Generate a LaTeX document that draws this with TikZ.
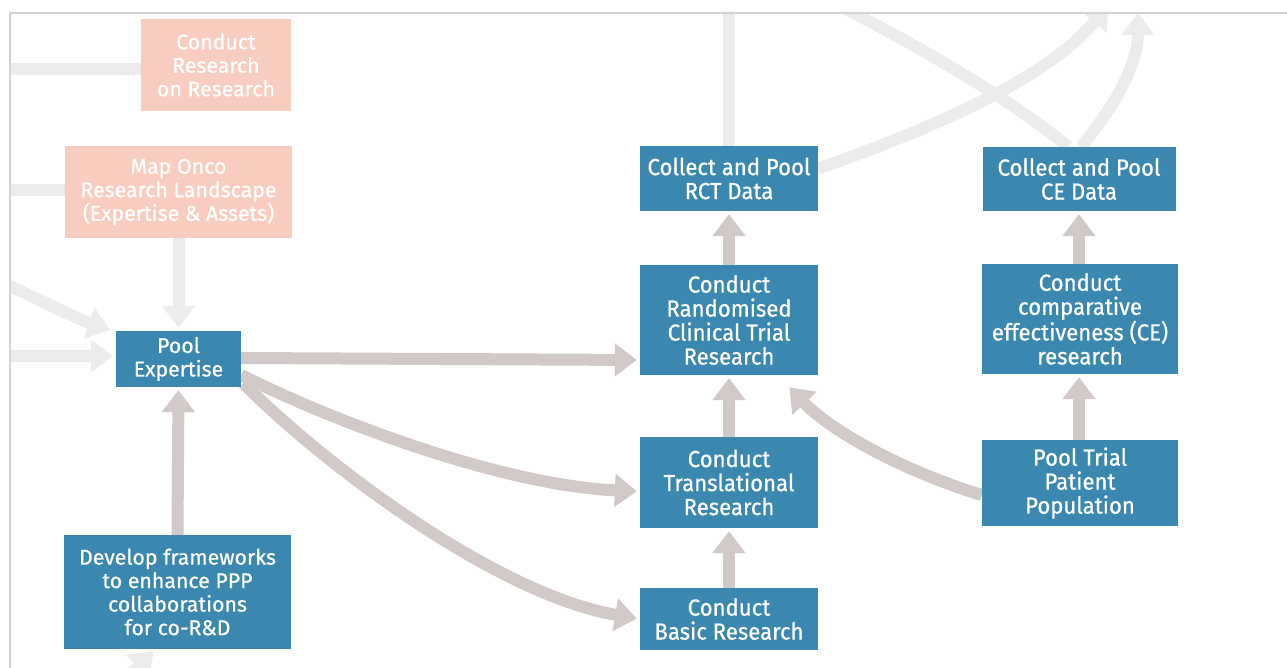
\documentclass[tikz,border=0pt]{standalone}
\usepackage{fontspec}
\setmainfont{Fira Sans}[FakeBold=0.7]
\newfontfamily\widefont{Fira Sans}[FakeBold=0.7]
\newfontfamily\narrowfont{Fira Sans}[FakeStretch=0.95,FakeBold=0.7]
\usetikzlibrary{arrows.meta,calc,backgrounds}

\definecolor{boxblue}{HTML}{3A88AF}
\definecolor{boxpeach}{HTML}{F8CCBF}
\definecolor{linkactive}{HTML}{D1C9C8}
\definecolor{linkfaded}{HTML}{EDEBEA}
\definecolor{framegray}{HTML}{D3D3D3}

\tikzset{
  box/.style={rectangle, fill=boxblue, text=white, align=center, inner sep=0pt,
              font=\widefont\fontsize{21.3}{23.5}\selectfont},
  peachbox/.style={box, fill=boxpeach},
  narrowbox/.style={box, font=\narrowfont\fontsize{23.3}{24}\selectfont},
  link/.style={draw=linkactive, line width=12pt,
               -{Triangle[width=32pt,length=22pt]}, shorten >=3pt},
  fadedlink/.style={link, draw=linkfaded},
  fadedline/.style={draw=linkfaded, line width=12pt},
}

\begin{document}
\begin{tikzpicture}[x=1pt,y=-1pt]
\useasboundingbox (0,0) rectangle (1287,668);

% left column
\node[peachbox, minimum width=150pt, minimum height=92pt] (crr) at (216,65)
  {Conduct\\Research\\on Research};
\node[peachbox, minimum width=227pt, minimum height=92pt] (map) at (178.5,192)
  {Map Onco\\Research Landscape\\(Expertise \& Assets)};
\node[box, minimum width=125pt, minimum height=56pt] (pool) at (178.5,359)
  {Pool\\Expertise};
\node[box, minimum width=227pt, minimum height=114pt] (dev) at (177.5,592)
  {Develop frameworks\\to enhance PPP\\collaborations\\for co-R\&D};

% research chain
\node[narrowbox, minimum width=178pt, minimum height=65pt] (rctdata) at (729,178.5)
  {Collect and Pool\\RCT Data};
\node[narrowbox, minimum width=178pt, minimum height=110pt] (rct) at (729,320)
  {Conduct\\Randomised\\Clinical Trial\\Research};
\node[narrowbox, minimum width=178pt, minimum height=91pt] (trans) at (729,482.5)
  {Conduct\\Translational\\Research};
\node[narrowbox, minimum width=178pt, minimum height=62pt] (basic) at (729,619)
  {Conduct\\Basic Research};

% comparative effectiveness chain
\node[narrowbox, minimum width=193pt, minimum height=64pt] (cedata) at (1079,179)
  {Collect and Pool\\CE Data};
\node[narrowbox, minimum width=196pt, minimum height=110pt] (ce) at (1080,319)
  {Conduct\\comparative\\effectiveness (CE)\\research};
\node[narrowbox, minimum width=196pt, minimum height=86pt] (ptp) at (1080,483)
  {Pool Trial\\Patient\\Population};

% loose ends of links that run off the frame
\coordinate (inA) at (-20,69);
\coordinate (inB) at (-20,190);
\coordinate (inC) at (-20,272);
\coordinate (inD) at (-20,356);
\coordinate (inE) at (95,710);
\coordinate (outA) at (729,-20);
\coordinate (outB) at (1110,3);
\coordinate (inF) at (800,-14);
\coordinate (outC) at (1138,10);

\begin{scope}[on background layer]
  \clip (10,13) rectangle (1287,668);
  % faded links
  \draw[fadedline] (inA) -- ($(crr.west)+(0,4)$);
  \draw[fadedline] (inB) -- ($(map.west)+(0,-2)$);
  \draw[fadedlink] (map.south) -- (pool.north);
  \draw[fadedlink] (inC) .. controls (40,300) and (80,320) .. ($(pool.north west)+(-3,0)$);
  \draw[fadedlink] (inD) -- ($(pool.west)+(0,-3)$);
  \draw[fadedlink] (inE) -- ($(dev.south)+(-22,0)$);
  \draw[fadedline] (rctdata.north) -- (outA);
  \draw[fadedlink] ($(rctdata.east)+(0,-10)$) .. controls (948,123) and (1050,75) .. (outB);
  \draw[fadedline] (inF) .. controls (880,25) and (1000,90) .. ($(cedata.north)+(-11,0)$);
  \draw[fadedlink] ($(cedata.north)+(2,0)$) .. controls (1120,100) and (1138,60) .. (outC);
  % active links
  \draw[link] (dev.north) -- (pool.south);
  \draw[link] ($(pool.east)+(0,-1)$) -- ($(rct.west)+(0,40)$);
  \draw[link] ($(pool.east)+(0,16)$) .. controls (330,420) and (500,485) .. ($(trans.west)+(0,9)$);
  \draw[link] ($(pool.south east)+(2,-4)$) .. controls (330,470) and (500,595) .. (basic.west);
  \draw[link] (basic.north) -- (trans.south);
  \draw[link] (trans.north) -- (rct.south);
  \draw[link] (rct.north) -- (rctdata.south);
  \draw[link] ($(ptp.west)+(0,12)$) .. controls (900,470) and (830,430) .. ($(rct.south east)+(-31,10)$);
  \draw[link] ($(ptp.north)+(-1,0)$) -- ($(ce.south)+(-1,0)$);
  \draw[link] ($(ce.north)+(-1,0)$) -- (cedata.south);
\end{scope}

% frame edges
\draw[framegray, line width=1.2pt] (10,668) -- (10,13) -- (1287,13);
\end{tikzpicture}
\end{document}
